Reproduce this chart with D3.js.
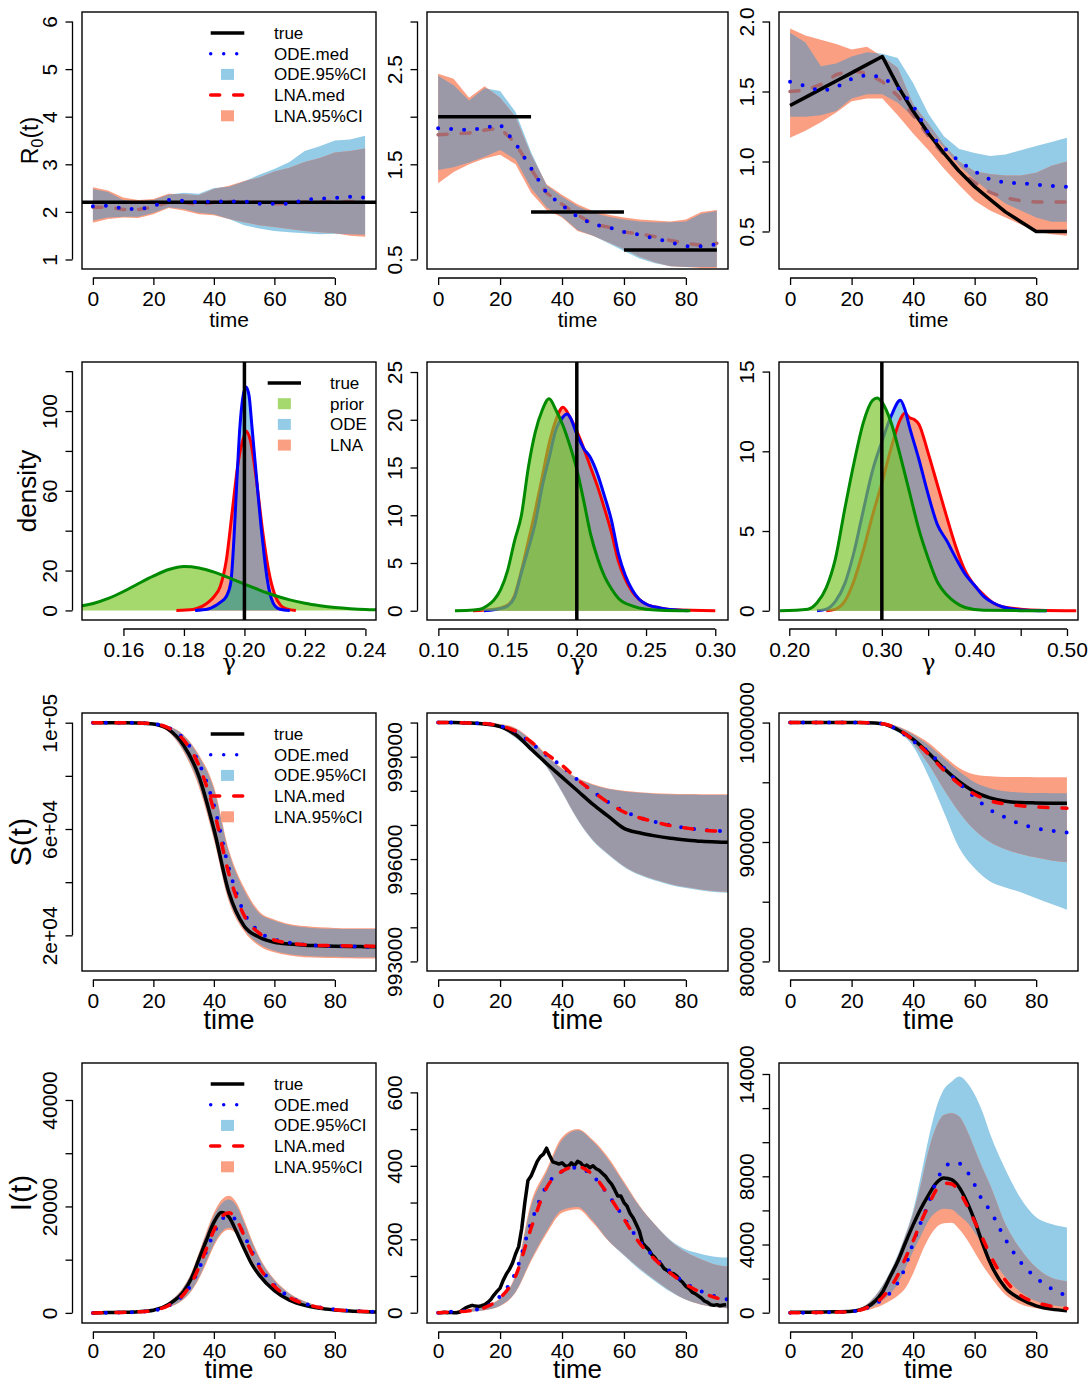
<!DOCTYPE html>
<html>
<head>
<meta charset="utf-8">
<script src="https://cdn.jsdelivr.net/npm/d3@7"></script>
<style>
  body { margin: 0; background: #fff; }
  svg { font-family: "Liberation Sans", Arial, Helvetica, sans-serif; }
</style>
</head>
<body>
<svg id="fig" width="1092" height="1384"></svg>
<script>
// ---- time grids ----
const T5 = [0, 5, 10, 15, 20, 25, 30, 35, 40, 45, 50, 55, 60, 65, 70, 75, 80, 85, 90];
const T5b = [0, 5, 10, 15, 20, 25, 30, 35, 40, 45, 50, 55, 60, 65, 70, 75, 80, 85, 90, 95];
const TI = [0, 5, 10, 15, 20, 25, 30, 32.5, 35, 37.5, 40, 42.5, 45, 47.5, 50, 52.5, 55, 60, 65, 70, 75, 80, 85, 90, 95];
const TI3 = [0, 5, 10, 15, 20, 25, 30, 32.5, 35, 37.5, 40, 42.5, 45, 47.5, 50, 52.5, 55, 57.5, 60, 62.5, 65, 70, 75, 80, 85, 90];

// ---- row 1: R0(t) ----
const r0aTrue = 2.2;
const r0aOdeMed = [2.12, 2.13, 2.07, 2.05, 2.12, 2.25, 2.23, 2.2, 2.22, 2.22, 2.22, 2.17, 2.17, 2.17, 2.25, 2.28, 2.29, 2.32, 2.3];
const r0aLnaMed = [2.1, 2.1, 2.05, 2.05, 2.1, 2.2, 2.2, 2.15, 2.2, 2.22, 2.2, 2.2, 2.17, 2.18, 2.2, 2.22, 2.22, 2.22, 2.22];
const r0aOdeHi = [2.48, 2.42, 2.25, 2.22, 2.25, 2.36, 2.4, 2.38, 2.5, 2.53, 2.64, 2.78, 2.9, 3.05, 3.28, 3.38, 3.5, 3.52, 3.6];
const r0aLnaHi = [2.52, 2.45, 2.3, 2.25, 2.27, 2.38, 2.37, 2.35, 2.48, 2.55, 2.65, 2.72, 2.85, 2.93, 3.05, 3.13, 3.25, 3.28, 3.33];
const r0aOdeLo = [1.82, 1.88, 1.9, 1.9, 1.98, 2.1, 2.06, 1.98, 1.95, 1.85, 1.72, 1.65, 1.6, 1.57, 1.55, 1.53, 1.54, 1.53, 1.52];
const r0aLnaLo = [1.77, 1.85, 1.88, 1.87, 1.95, 2.08, 2.03, 1.95, 1.93, 1.85, 1.78, 1.72, 1.68, 1.64, 1.6, 1.57, 1.55, 1.5, 1.48];

const r0bTrueStart = [0, 30, 60];
const r0bTrueEnd = [30, 60, 90];
const r0bTrueVal = [2.0, 1.0, 0.6];
const r0bOdeMed = [1.88, 1.87, 1.86, 1.88, 1.92, 1.72, 1.46, 1.2, 1.07, 0.95, 0.87, 0.84, 0.79, 0.76, 0.72, 0.68, 0.64, 0.64, 0.66];
const r0bLnaMed = [1.81, 1.82, 1.83, 1.86, 1.88, 1.72, 1.45, 1.2, 1.08, 0.97, 0.87, 0.84, 0.79, 0.77, 0.74, 0.7, 0.67, 0.65, 0.67];
const r0bOdeHi = [2.43, 2.33, 2.17, 2.3, 2.27, 2.05, 1.63, 1.28, 1.16, 1.06, 0.99, 0.95, 0.92, 0.9, 0.89, 0.89, 0.9, 0.98, 1.01];
const r0bLnaHi = [2.45, 2.4, 2.2, 2.32, 2.2, 2.0, 1.6, 1.29, 1.18, 1.08, 1.01, 0.97, 0.94, 0.92, 0.91, 0.9, 0.92, 1.0, 1.02];
const r0bOdeLo = [1.44, 1.47, 1.52, 1.58, 1.65, 1.55, 1.25, 1.05, 0.95, 0.81, 0.75, 0.67, 0.59, 0.51, 0.46, 0.43, 0.42, 0.42, 0.42];
const r0bLnaLo = [1.3, 1.42, 1.5, 1.56, 1.6, 1.5, 1.2, 1.02, 0.94, 0.8, 0.75, 0.68, 0.61, 0.53, 0.47, 0.43, 0.42, 0.41, 0.41];

const r0cTrue = [1.4, 1.458, 1.517, 1.575, 1.633, 1.692, 1.75, 1.54, 1.36, 1.2, 1.06, 0.93, 0.82, 0.73, 0.64, 0.57, 0.5, 0.5, 0.5];
const r0cOdeMed = [1.57, 1.54, 1.5, 1.53, 1.59, 1.62, 1.6, 1.53, 1.4, 1.2, 1.1, 1.0, 0.93, 0.87, 0.85, 0.845, 0.835, 0.825, 0.82];
const r0cLnaMed = [1.5, 1.51, 1.55, 1.62, 1.65, 1.63, 1.57, 1.47, 1.33, 1.18, 1.05, 0.93, 0.85, 0.78, 0.74, 0.72, 0.71, 0.71, 0.71];
const r0cOdeHi = [1.92, 1.85, 1.68, 1.7, 1.75, 1.78, 1.77, 1.74, 1.56, 1.34, 1.18, 1.09, 1.06, 1.04, 1.05, 1.08, 1.11, 1.14, 1.17];
const r0cLnaHi = [1.95, 1.9, 1.87, 1.84, 1.8, 1.82, 1.75, 1.67, 1.41, 1.27, 1.12, 1.0, 0.93, 0.91, 0.9, 0.9, 0.92, 0.97, 1.0];
const r0cOdeLo = [1.32, 1.32, 1.33, 1.36, 1.45, 1.48, 1.48, 1.42, 1.32, 1.22, 1.1, 0.97, 0.87, 0.78, 0.7, 0.65, 0.6, 0.57, 0.57];
const r0cLnaLo = [1.17, 1.22, 1.28, 1.35, 1.43, 1.45, 1.45, 1.33, 1.2, 1.08, 0.95, 0.83, 0.72, 0.65, 0.6, 0.55, 0.5, 0.48, 0.47];

// ---- row 2: gamma densities ----
const gATrue = 0.2;
const gAPriorX = [0.146, 0.15, 0.155, 0.16, 0.165, 0.17, 0.175, 0.18, 0.185, 0.19, 0.195, 0.2, 0.205, 0.21, 0.215, 0.22, 0.225, 0.23, 0.235, 0.24, 0.245];
const gAPriorY = [2.3, 3.5, 6, 9.5, 13.5, 17.3, 20.5, 22, 21.3, 19.2, 16.3, 13.2, 10.2, 7.5, 5.3, 3.6, 2.4, 1.5, 0.9, 0.5, 0.35];
const gAOdeX = [0.1837, 0.188, 0.19, 0.192, 0.194, 0.1955, 0.1965, 0.1975, 0.1985, 0.1995, 0.2005, 0.2015, 0.2025, 0.2035, 0.2045, 0.2055, 0.2065, 0.2075, 0.2085, 0.2095, 0.211, 0.213, 0.215];
const gAOdeY = [0, 0.7, 2, 4, 7, 14, 35, 65, 92, 107, 112, 108, 92, 75, 58, 42, 28, 16, 8, 3.7, 1, 0.2, 0];
const gALnaX = [0.1775, 0.183, 0.186, 0.188, 0.19, 0.192, 0.194, 0.196, 0.198, 0.2, 0.2005, 0.202, 0.204, 0.206, 0.208, 0.21, 0.212, 0.214, 0.217];
const gALnaY = [0, 0.5, 2, 4, 7, 12, 25, 50, 75, 88, 90, 85, 65, 40, 20, 8, 2.5, 0.8, 0];

const gBTrue = 0.2;
const gBPriorX = [0.112, 0.12, 0.13, 0.135, 0.14, 0.145, 0.15, 0.155, 0.16, 0.165, 0.17, 0.175, 0.18, 0.185, 0.19, 0.195, 0.2, 0.205, 0.21, 0.215, 0.22, 0.225, 0.23, 0.24, 0.25, 0.26, 0.282];
const gBPriorY = [0, 0.02, 0.15, 0.5, 1.1, 2.2, 4.2, 7.3, 10, 15, 18.7, 21, 22.2, 21, 19.4, 17.3, 14.8, 11.5, 8, 5.5, 3.6, 2.3, 1.3, 0.5, 0.15, 0.05, 0];
const gBOdeX = [0.133, 0.14, 0.145, 0.15, 0.155, 0.16, 0.165, 0.17, 0.175, 0.18, 0.185, 0.19, 0.193, 0.195, 0.2, 0.205, 0.21, 0.215, 0.22, 0.225, 0.23, 0.235, 0.24, 0.245, 0.25, 0.26, 0.27, 0.28];
const gBOdeY = [0, 0.1, 0.25, 0.5, 1.4, 4, 6.5, 9.2, 13, 16, 19, 20.3, 20.6, 20.3, 18.5, 17, 16, 14.3, 12, 9.5, 6, 3.7, 2.2, 1.2, 0.7, 0.3, 0.1, 0];
const gBLnaX = [0.125, 0.14, 0.15, 0.155, 0.16, 0.165, 0.17, 0.175, 0.18, 0.185, 0.19, 0.195, 0.2, 0.205, 0.21, 0.215, 0.22, 0.225, 0.23, 0.235, 0.24, 0.245, 0.25, 0.26, 0.27, 0.3];
const gBLnaY = [0, 0.15, 0.6, 1.6, 4.2, 7.3, 10.5, 14, 17.5, 20, 21.3, 20.3, 18.8, 17, 15, 13, 10.7, 8.2, 5.2, 3.3, 2, 1.2, 0.7, 0.3, 0.1, 0];

const gCTrue = 0.3;
const gCPriorX = [0.19, 0.22, 0.23, 0.24, 0.25, 0.26, 0.27, 0.28, 0.29, 0.295, 0.3, 0.31, 0.32, 0.33, 0.34, 0.35, 0.36, 0.37, 0.38, 0.39, 0.41, 0.478];
const gCPriorY = [0, 0.1, 0.5, 1.45, 3.3, 6.4, 9.3, 11.8, 13.2, 13.35, 13.1, 11.8, 9.7, 7.4, 5.1, 3.3, 1.8, 1.0, 0.5, 0.2, 0.03, 0];
const gCOdeX = [0.23, 0.24, 0.25, 0.26, 0.27, 0.28, 0.29, 0.3, 0.31, 0.32, 0.325, 0.33, 0.34, 0.35, 0.36, 0.37, 0.38, 0.39, 0.4, 0.41, 0.42, 0.43, 0.45, 0.478];
const gCOdeY = [0, 0.1, 0.6, 1.7, 3.7, 6.3, 8.8, 10.6, 12.2, 13.2, 12.6, 11.5, 9.5, 7.3, 5.4, 4.4, 3.3, 2.3, 1.6, 0.9, 0.5, 0.25, 0.05, 0];
const gCLnaX = [0.24, 0.25, 0.26, 0.27, 0.28, 0.29, 0.3, 0.31, 0.32, 0.325, 0.33, 0.335, 0.34, 0.35, 0.36, 0.37, 0.38, 0.39, 0.4, 0.41, 0.42, 0.43, 0.45, 0.47, 0.51];
const gCLnaY = [0, 0.1, 0.6, 1.9, 3.8, 6, 8, 10.2, 12, 12.4, 12.1, 12, 11.7, 9.9, 7.9, 5.9, 4, 2.5, 1.6, 1.0, 0.5, 0.25, 0.1, 0.03, 0];

// ---- row 3: S(t) ----
const sATrue = [100000, 100000, 99990, 99900, 99500, 97500, 91500, 80000, 60000, 36000, 23500, 19300, 17400, 16700, 16300, 16100, 15900, 15800, 15750, 15700];
const sALnaMed = [100000, 100000, 99990, 99920, 99600, 98000, 93500, 84000, 67000, 43000, 27500, 20800, 18200, 17100, 16500, 16200, 16100, 16000, 15950, 15900];
const sAOdeMed = [100000, 100000, 99990, 99920, 99600, 98100, 94000, 85000, 69000, 45000, 28500, 21300, 18500, 17200, 16500, 16100, 15900, 15800, 15700, 15650];
const sALnaHi = [100000, 100000, 99995, 99950, 99800, 98800, 95500, 88000, 76000, 52000, 38000, 29000, 26000, 24300, 23500, 23000, 22800, 22700, 22700, 22700];
const sAOdeHi = [100000, 100000, 99995, 99950, 99780, 98700, 95200, 87500, 75000, 51000, 37000, 28300, 25500, 23800, 23000, 22600, 22500, 22400, 22400, 22400];
const sALnaLo = [99990, 99980, 99960, 99850, 99000, 96500, 89000, 76000, 56000, 32500, 21500, 16000, 13600, 12400, 11800, 11600, 11500, 11400, 11300, 11300];
const sAOdeLo = [99990, 99980, 99960, 99860, 99100, 96700, 89500, 77000, 57000, 33500, 22300, 16700, 14200, 12900, 12300, 12000, 11900, 11800, 11800, 11800];

const sBTrue = [1000000, 1000000, 999990, 999960, 999880, 999650, 999220, 998800, 998400, 998000, 997600, 997250, 996900, 996770, 996680, 996610, 996560, 996520, 996500, 996490];
const sBLnaMed = [1000000, 1000000, 999990, 999970, 999900, 999750, 999430, 999080, 998750, 998330, 997980, 997650, 997380, 997210, 997090, 996980, 996910, 996850, 996820, 996800];
const sBOdeMed = [1000000, 1000000, 999990, 999970, 999900, 999740, 999400, 999050, 998720, 998320, 997980, 997660, 997400, 997220, 997090, 996990, 996910, 996860, 996830, 996810];
const sBLnaHi = [1000000, 1000000, 1000000, 999995, 999960, 999840, 999510, 999060, 998660, 998380, 998190, 998070, 998000, 997960, 997930, 997915, 997905, 997900, 997900, 997900];
const sBOdeHi = [1000000, 1000000, 1000000, 999995, 999950, 999820, 999480, 999030, 998640, 998360, 998170, 998050, 997980, 997940, 997910, 997895, 997885, 997880, 997880, 997880];
const sBLnaLo = [999980, 999980, 999960, 999930, 999850, 999570, 999230, 998720, 997980, 997180, 996560, 996150, 995800, 995560, 995400, 995270, 995180, 995110, 995060, 995040];
const sBOdeLo = [999980, 999980, 999960, 999930, 999840, 999550, 999200, 998690, 997950, 997150, 996530, 996120, 995770, 995530, 995370, 995240, 995150, 995080, 995030, 995010];

const sCTrue = [1000000, 1000000, 1000000, 1000000, 999990, 999900, 999000, 994000, 986000, 974500, 961500, 950500, 942000, 937000, 934200, 933000, 932700, 932500, 932400];
const sCLnaMed = [1000000, 1000000, 1000000, 1000000, 999990, 999900, 999000, 994500, 985500, 973500, 960000, 948500, 940000, 934500, 931800, 930300, 929400, 928700, 928300];
const sCOdeMed = [1000000, 1000000, 1000000, 1000000, 999990, 999900, 999000, 993800, 984500, 975500, 962000, 949000, 937500, 927000, 920500, 915000, 911500, 909500, 908000];
const sCLnaHi = [1000000, 1000000, 1000000, 1000000, 1000000, 999990, 999900, 997000, 991000, 983000, 972000, 962000, 956500, 955000, 954500, 954400, 954300, 954300, 954300];
const sCOdeHi = [1000000, 1000000, 1000000, 1000000, 1000000, 999990, 999800, 996500, 990000, 981000, 970000, 959000, 950000, 945000, 942500, 941500, 941000, 940900, 940800];
const sCLnaLo = [1000000, 1000000, 1000000, 1000000, 999990, 999800, 998500, 993000, 982500, 965000, 944000, 925000, 910000, 900000, 894000, 890000, 887000, 884500, 883000];
const sCOdeLo = [1000000, 1000000, 1000000, 1000000, 999990, 999700, 998000, 992000, 980000, 955000, 925000, 895000, 878000, 867000, 862000, 858000, 853000, 848000, 843300];

// ---- row 4: I(t) ----
const iATrue = [0, 50, 100, 220, 500, 1600, 4000, 6400, 10000, 13600, 17000, 18850, 18000, 15200, 12100, 9200, 7100, 4200, 2400, 1400, 850, 550, 350, 230, 150];
const iALnaMed = [0, 40, 90, 200, 450, 1400, 3500, 5500, 8500, 12000, 15500, 18000, 18800, 17500, 14500, 11300, 8600, 5000, 2900, 1700, 1000, 620, 400, 260, 170];
const iAOdeMed = [0, 40, 90, 200, 440, 1350, 3400, 5300, 8200, 11600, 15000, 17500, 18300, 17300, 14600, 11600, 8900, 5200, 3000, 1750, 1050, 650, 420, 270, 180];
const iALnaHi = [0, 60, 130, 280, 650, 2000, 4900, 7500, 11200, 15200, 18800, 21200, 22000, 20700, 17500, 13800, 10600, 6300, 3700, 2200, 1300, 800, 500, 330, 220];
const iAOdeHi = [0, 55, 125, 270, 630, 1950, 4800, 7300, 10900, 14800, 18200, 20500, 21300, 20100, 17000, 13400, 10300, 6100, 3600, 2150, 1280, 790, 500, 330, 220];
const iALnaLo = [0, 25, 60, 140, 330, 1000, 2500, 4000, 6300, 9300, 12500, 14800, 15600, 14800, 12500, 9800, 7400, 4200, 2400, 1400, 850, 520, 330, 210, 140];
const iAOdeLo = [0, 27, 65, 150, 350, 1050, 2650, 4200, 6600, 9700, 12900, 15200, 16000, 15200, 12900, 10100, 7600, 4300, 2450, 1420, 860, 530, 340, 215, 145];

// observed epidemic, one value per day 0..93
const iBTrue = [
  0, 0, 1, 0, 1, 0, 0, 2, 8, 14,
  17, 20, 18, 17, 19, 22, 28, 36, 48, 58,
  67, 88, 105, 118, 135, 160, 180, 230, 300, 360,
  372, 392, 412, 425, 432, 448, 428, 411, 408, 405,
  408, 400, 398, 408, 400, 412, 408, 398, 402, 395,
  400, 392, 388, 380, 372, 360, 350, 335, 318, 318,
  300, 290, 270, 258, 240, 222, 190, 180, 172, 158,
  150, 138, 132, 120, 115, 108, 106, 100, 90, 82,
  72, 66, 56, 52, 46, 40, 32, 28, 22, 20,
  22, 19, 21, 22];
const iBLnaMed = [0, 2, 5, 14, 40, 100, 230, 340, 385, 398, 375, 320, 255, 190, 145, 108, 77, 55, 40, 30];
const iBOdeMed = [0, 3, 6, 15, 45, 110, 245, 345, 385, 395, 372, 320, 258, 195, 150, 112, 80, 58, 43, 33];
const iBLnaHi = [2, 5, 10, 20, 40, 105, 300, 390, 478, 500, 470, 422, 357, 292, 240, 195, 165, 145, 130, 125];
const iBOdeHi = [2, 4, 9, 18, 38, 100, 290, 382, 470, 497, 466, 416, 352, 290, 240, 198, 172, 160, 152, 150];
const iBLnaLo = [0, 1, 3, 7, 18, 55, 140, 215, 272, 282, 245, 195, 158, 122, 90, 60, 36, 22, 15, 11];
const iBOdeLo = [0, 1, 3, 7, 19, 57, 145, 222, 280, 288, 250, 196, 156, 118, 86, 57, 35, 22, 15, 11];

const iCTrue = [20, 25, 35, 50, 80, 330, 1200, 2100, 3000, 4100, 5150, 6100, 6900, 7600, 7900, 7800, 7350, 6500, 5400, 4100, 2950, 1450, 800, 400, 210, 120];
const iCLnaMed = [0, 5, 15, 30, 70, 300, 900, 1450, 2200, 3200, 4200, 5300, 6300, 7200, 7600, 7550, 7100, 6300, 5350, 4400, 3400, 1900, 1000, 600, 380, 250];
const iCOdeMed = [0, 5, 15, 30, 70, 280, 780, 1150, 1750, 2700, 4100, 5300, 6400, 7700, 8450, 8800, 8750, 8300, 7500, 6600, 6000, 4300, 2950, 2050, 1400, 1000];
const iCOdeHi = [30, 40, 50, 80, 150, 500, 1600, 2400, 3400, 4600, 6000, 8000, 10200, 12000, 13100, 13550, 13850, 13500, 12800, 11800, 10500, 8400, 6700, 5600, 5200, 5000];
const iCLnaHi = [30, 40, 50, 80, 150, 500, 1550, 2350, 3300, 4500, 5800, 7500, 9500, 10900, 11600, 11700, 11500, 10700, 9600, 8500, 7500, 5200, 3700, 2650, 2050, 1850];
const iCOdeLo = [0, 5, 10, 20, 50, 200, 700, 1100, 1700, 2600, 3600, 4500, 5400, 5900, 6100, 6050, 5700, 5300, 4700, 4000, 3300, 2100, 1200, 680, 440, 340];
const iCLnaLo = [0, 3, 8, 15, 40, 150, 450, 700, 1000, 1450, 2300, 3400, 4350, 5000, 5250, 5280, 4900, 4300, 3550, 2800, 2150, 1050, 500, 260, 150, 100];

// ---- layout ----
const colBox = [[82, 376], [427, 728], [779, 1078]];
const rowBox = [[12, 269], [362, 620], [713, 971], [1063, 1323]];
const timeDom = [-3.6, 93.6];
const COL = {
  ode: '#94cbe6', lna: '#fb9f83', both: '#9b99a7',
  odeLine: '#0000ff', lnaLine: '#ff0000', lnaMuted: '#a8686c',
  prior: '#a5d96e', priorFill: 'rgb(126,200,48)', priorLine: '#008a00', teal: '#5fa389',
};

const svg = d3.select('#fig');
const defs = svg.append('defs');
const sci = (d) => {
  const e = Math.floor(Math.log10(d));
  return `${Math.round(d / 10 ** e)}e+${String(e).padStart(2, '0')}`;
};

function frame(row, col, xDom, yDom) {
  const [x0, x1] = colBox[col];
  const [y0, y1] = rowBox[row];
  const x = d3.scaleLinear().domain(xDom).range([x0, x1]);
  const y = d3.scaleLinear().domain(yDom).range([y1, y0]);
  const id = `c${row}${col}`;
  defs.append('clipPath').attr('id', id).append('rect')
    .attr('x', x0).attr('y', y0).attr('width', x1 - x0).attr('height', y1 - y0);
  const g = svg.append('g').attr('clip-path', `url(#${id})`);
  return { x, y, g, x0, x1, y0, y1, id };
}

function axes(f, ax) {
  // x axis: line spans first..last tick only, like base R
  const xa = d3.axisBottom(f.x).tickValues(ax.xTicks).tickSize(7)
    .tickFormat(d => (ax.xLabels.includes(d) ? ax.xFmt(d) : ''));
  const gx = svg.append('g').attr('transform', `translate(0,${f.y1 + 9})`).call(xa);
  gx.select('.domain').remove();
  gx.append('line')
    .attr('x1', f.x(ax.xTicks[0])).attr('x2', f.x(ax.xTicks[ax.xTicks.length - 1]))
    .attr('stroke', '#000').attr('stroke-width', 1.3);
  gx.selectAll('.tick line').attr('stroke-width', 1.3);
  gx.selectAll('.tick text').attr('font-size', 21).attr('font-family', null)
    .attr('fill', '#000').attr('dy', null).attr('y', ax.tickY || 28);

  // y axis
  const ya = d3.axisLeft(f.y).tickValues(ax.yTicks).tickSize(7)
    .tickFormat(d => (ax.yLabels.includes(d) ? ax.yFmt(d) : ''));
  const gy = svg.append('g').attr('transform', `translate(${f.x0 - 9.5},0)`).call(ya);
  gy.select('.domain').remove();
  gy.append('line')
    .attr('y1', f.y(ax.yTicks[0])).attr('y2', f.y(ax.yTicks[ax.yTicks.length - 1]))
    .attr('stroke', '#000').attr('stroke-width', 1.3);
  gy.selectAll('.tick line').attr('stroke-width', 1.3);
  gy.selectAll('.tick text').attr('font-size', 21).attr('font-family', null)
    .attr('fill', '#000').attr('x', null).attr('dy', null)
    .attr('text-anchor', 'middle')
    .attr('transform', 'translate(-16,0) rotate(-90)');

  // box
  svg.append('rect').attr('x', f.x0).attr('y', f.y0)
    .attr('width', f.x1 - f.x0).attr('height', f.y1 - f.y0)
    .attr('fill', 'none').attr('stroke', '#000').attr('stroke-width', 1.4);

  // x title
  const xt = svg.append('text').attr('x', (f.x0 + f.x1) / 2).attr('y', ax.xTitleY)
    .attr('text-anchor', 'middle').attr('font-size', ax.xTitleSize);
  if (ax.greek) xt.attr('font-family', '"DejaVu Serif", "Liberation Serif", serif');
  xt.text(ax.xTitle);
}

function legend(f, items, lx) {
  const g = svg.append('g');
  items.forEach((it, i) => {
    const cy = f.y0 + 21 + i * 20.7;
    if (it.type === 'line') {
      g.append('line').attr('x1', lx[0]).attr('x2', lx[1]).attr('y1', cy).attr('y2', cy)
        .attr('stroke', it.color).attr('stroke-width', 3.5)
        .attr('stroke-dasharray', it.dash || null).attr('stroke-linecap', it.cap || 'butt');
    } else {
      const cx = (lx[0] + lx[1]) / 2;
      g.append('rect').attr('x', cx - 6.5).attr('y', cy - 5.5).attr('width', 13).attr('height', 11)
        .attr('fill', it.color);
    }
    g.append('text').attr('x', lx[2]).attr('y', cy).attr('dy', '0.35em')
      .attr('font-size', 17).text(it.label);
  });
}

const bandLegend = [
  { type: 'line', color: '#000', label: 'true' },
  { type: 'line', color: COL.odeLine, dash: '0 13', cap: 'round', label: 'ODE.med' },
  { type: 'box', color: COL.ode, label: 'ODE.95%CI' },
  { type: 'line', color: COL.lnaLine, dash: '9 14', cap: 'round', label: 'LNA.med' },
  { type: 'box', color: COL.lna, label: 'LNA.95%CI' },
];

const timeAxis = { xTicks: [0, 20, 40, 60, 80], xLabels: [0, 20, 40, 60, 80], xFmt: d3.format('d'), xTitle: 'time' };

const bandPanels = [
  { row: 0, col: 0, t: T5, yDom: [0.8, 6.2], yTicks: [1, 2, 3, 4, 5, 6], yLabels: [1, 2, 3, 4, 5, 6], yFmt: d3.format('d'),
    oLo: r0aOdeLo, oHi: r0aOdeHi, lLo: r0aLnaLo, lHi: r0aLnaHi, oMed: r0aOdeMed, lMed: r0aLnaMed,
    hline: r0aTrue, curve: d3.curveLinear, muted: true, legend: true },
  { row: 0, col: 1, t: T5, yDom: [0.4, 3.1], yTicks: [0.5, 1, 1.5, 2, 2.5, 3], yLabels: [0.5, 1.5, 2.5], yFmt: d3.format('.1f'),
    oLo: r0bOdeLo, oHi: r0bOdeHi, lLo: r0bLnaLo, lHi: r0bLnaHi, oMed: r0bOdeMed, lMed: r0bLnaMed,
    steps: [r0bTrueStart, r0bTrueEnd, r0bTrueVal], curve: d3.curveLinear, muted: true },
  { row: 0, col: 2, t: T5, yDom: [0.232, 2.068], yTicks: [0.5, 1, 1.5, 2], yLabels: [0.5, 1, 1.5, 2], yFmt: d3.format('.1f'),
    oLo: r0cOdeLo, oHi: r0cOdeHi, lLo: r0cLnaLo, lHi: r0cLnaHi, oMed: r0cOdeMed, lMed: r0cLnaMed,
    tr: r0cTrue, trueCurve: d3.curveLinear, curve: d3.curveLinear, muted: true },
  { row: 2, col: 0, t: T5b, yDom: [6580, 103650], yTicks: [20000, 40000, 60000, 80000, 100000], yLabels: [20000, 60000, 100000], yFmt: sci,
    oLo: sAOdeLo, oHi: sAOdeHi, lLo: sALnaLo, lHi: sALnaHi, oMed: sAOdeMed, lMed: sALnaMed,
    tr: sATrue, curve: d3.curveMonotoneX, legend: true },
  { row: 2, col: 1, t: T5b, yDom: [992720, 1000280], yTicks: d3.range(993000, 1000001, 1000), yLabels: [993000, 996000, 999000], yFmt: d3.format('d'),
    oLo: sBOdeLo, oHi: sBOdeHi, lLo: sBLnaLo, lHi: sBLnaHi, oMed: sBOdeMed, lMed: sBLnaMed,
    tr: sBTrue, curve: d3.curveMonotoneX },
  { row: 2, col: 2, t: T5, yDom: [792000, 1008000], yTicks: [800000, 850000, 900000, 950000, 1000000], yLabels: [800000, 900000, 1000000], yFmt: d3.format('d'),
    oLo: sCOdeLo, oHi: sCOdeHi, lLo: sCLnaLo, lHi: sCLnaHi, oMed: sCOdeMed, lMed: sCLnaMed,
    tr: sCTrue, curve: d3.curveMonotoneX },
  { row: 3, col: 0, t: TI, yDom: [-1900, 46950], yTicks: [0, 10000, 20000, 30000, 40000], yLabels: [0, 20000, 40000], yFmt: d3.format('d'),
    oLo: iAOdeLo, oHi: iAOdeHi, lLo: iALnaLo, lHi: iALnaHi, oMed: iAOdeMed, lMed: iALnaMed,
    tr: iATrue, curve: d3.curveMonotoneX, legend: true },
  { row: 3, col: 1, t: T5b, yDom: [-28, 680], yTicks: [0, 100, 200, 300, 400, 500, 600], yLabels: [0, 200, 400, 600], yFmt: d3.format('d'),
    oLo: iBOdeLo, oHi: iBOdeHi, lLo: iBLnaLo, lHi: iBLnaHi, oMed: iBOdeMed, lMed: iBLnaMed,
    tr: iBTrue, trueT: d3.range(0, iBTrue.length), trueCurve: d3.curveLinear, curve: d3.curveMonotoneX },
  { row: 3, col: 2, t: TI3, yDom: [-604, 14645], yTicks: d3.range(0, 14001, 2000), yLabels: [0, 4000, 8000, 14000], yFmt: d3.format('d'),
    oLo: iCOdeLo, oHi: iCOdeHi, lLo: iCLnaLo, lHi: iCLnaHi, oMed: iCOdeMed, lMed: iCLnaMed,
    tr: iCTrue, curve: d3.curveMonotoneX },
];

const xTitleY = [327, 670, 1029, 1378];
const xTitleSize = [21, 23, 27, 26];
const tickY = [28, 28, 28, 26];

bandPanels.forEach((p) => {
  const f = frame(p.row, p.col, timeDom, p.yDom);
  const { x, y, g } = f;
  const rows = p.t.map((t, i) => ({
    t, oLo: p.oLo[i], oHi: p.oHi[i], lLo: p.lLo[i], lHi: p.lHi[i], oM: p.oMed[i], lM: p.lMed[i],
  }));
  const odeArea = d3.area().curve(p.curve).x(d => x(d.t)).y0(d => y(d.oLo)).y1(d => y(d.oHi));
  const lnaArea = d3.area().curve(p.curve).x(d => x(d.t)).y0(d => y(d.lLo)).y1(d => y(d.lHi));
  defs.append('clipPath').attr('id', `${f.id}ode`).append('path').attr('d', odeArea(rows));

  g.append('path').attr('d', odeArea(rows)).attr('fill', COL.ode);
  g.append('path').attr('d', lnaArea(rows)).attr('fill', COL.lna);
  // overlap of the two credible bands
  g.append('path').attr('d', lnaArea(rows)).attr('fill', COL.both).attr('clip-path', `url(#${f.id}ode)`);

  const lnaLine = d3.line().curve(p.curve).x(d => x(d.t)).y(d => y(d.lM));
  const odeLine = d3.line().curve(p.curve).x(d => x(d.t)).y(d => y(d.oM));
  const drawLna = () => g.append('path').attr('d', lnaLine(rows)).attr('fill', 'none')
    .attr('stroke', p.muted ? COL.lnaMuted : COL.lnaLine).attr('stroke-width', 3.5)
    .attr('stroke-dasharray', '9 14').attr('stroke-linecap', 'round');
  if (p.muted) drawLna();

  // true trajectory
  const tStyle = sel => sel.attr('stroke', '#000').attr('stroke-width', 3.5).attr('fill', 'none');
  if (p.hline !== undefined) {
    tStyle(g.append('line').attr('x1', f.x0).attr('x2', f.x1).attr('y1', y(p.hline)).attr('y2', y(p.hline)));
  } else if (p.steps) {
    p.steps[0].forEach((s, i) => {
      tStyle(g.append('line').attr('x1', x(s)).attr('x2', x(p.steps[1][i]))
        .attr('y1', y(p.steps[2][i])).attr('y2', y(p.steps[2][i])));
    });
  } else {
    const tt = p.trueT || p.t;
    const tl = d3.line().curve(p.trueCurve || p.curve).x((d, i) => x(tt[i])).y(d => y(d));
    tStyle(g.append('path').attr('d', tl(p.tr))).attr('stroke-linejoin', 'round');
  }

  g.append('path').attr('d', odeLine(rows)).attr('fill', 'none')
    .attr('stroke', COL.odeLine).attr('stroke-width', 4)
    .attr('stroke-dasharray', '0 13').attr('stroke-linecap', 'round');
  if (!p.muted) drawLna();

  axes(f, {
    ...timeAxis, yTicks: p.yTicks, yLabels: p.yLabels, yFmt: p.yFmt,
    xTitleY: xTitleY[p.row], xTitleSize: xTitleSize[p.row], tickY: tickY[p.row],
  });
  if (p.legend) legend(f, bandLegend, [210.7, 244.3, 274]);
});

// density panels
const densPanels = [
  { col: 0, xDom: [0.1463, 0.2435], yDom: [-4.8, 124.6], xTicks: [0.16, 0.18, 0.2, 0.22, 0.24], xLabels: [0.16, 0.18, 0.2, 0.22, 0.24],
    yTicks: [0, 20, 40, 60, 80, 100, 120], yLabels: [0, 20, 60, 100],
    prior: [gAPriorX, gAPriorY], ode: [gAOdeX, gAOdeY], lna: [gALnaX, gALnaY], tv: gATrue, priorTop: false, legend: true },
  { col: 1, xDom: [0.0918, 0.3092], yDom: [-0.97, 26.05], xTicks: [0.1, 0.15, 0.2, 0.25, 0.3], xLabels: [0.1, 0.15, 0.2, 0.25, 0.3],
    yTicks: [0, 5, 10, 15, 20, 25], yLabels: [0, 5, 10, 15, 20, 25],
    prior: [gBPriorX, gBPriorY], ode: [gBOdeX, gBOdeY], lna: [gBLnaX, gBLnaY], tv: gBTrue, priorTop: true },
  { col: 2, xDom: [0.1889, 0.5119], yDom: [-0.58, 15.6], xTicks: [0.2, 0.25, 0.3, 0.35, 0.4, 0.45, 0.5], xLabels: [0.2, 0.3, 0.4, 0.5],
    yTicks: [0, 5, 10, 15], yLabels: [0, 5, 10, 15],
    prior: [gCPriorX, gCPriorY], ode: [gCOdeX, gCOdeY], lna: [gCLnaX, gCLnaY], tv: gCTrue, priorTop: true },
];

densPanels.forEach((p) => {
  const f = frame(1, p.col, p.xDom, p.yDom);
  const { x, y, g } = f;
  const pts = ([xs, ys]) => xs.map((v, i) => [v, ys[i]]);
  const area = d3.area().curve(d3.curveMonotoneX).x(d => x(d[0])).y0(y(0)).y1(d => y(d[1]));
  const line = d3.line().curve(d3.curveMonotoneX).x(d => x(d[0])).y(d => y(d[1]));
  const prior = pts(p.prior);
  const ode = pts(p.ode);
  const lna = pts(p.lna);
  defs.append('clipPath').attr('id', `${f.id}ode`).append('path').attr('d', area(ode));
  defs.append('clipPath').attr('id', `${f.id}pri`).append('path').attr('d', area(prior));

  if (!p.priorTop) g.append('path').attr('d', area(prior)).attr('fill', COL.prior);
  g.append('path').attr('d', area(ode)).attr('fill', COL.ode);
  g.append('path').attr('d', area(lna)).attr('fill', COL.lna);
  const both = g.append('g').attr('clip-path', `url(#${f.id}ode)`);
  both.append('path').attr('d', area(lna)).attr('fill', COL.both);
  if (!p.priorTop) {
    both.append('path').attr('d', area(lna)).attr('fill', COL.teal).attr('clip-path', `url(#${f.id}pri)`);
  }
  g.append('path').attr('d', line(lna)).attr('fill', 'none').attr('stroke', COL.lnaLine).attr('stroke-width', 3);
  g.append('path').attr('d', line(ode)).attr('fill', 'none').attr('stroke', COL.odeLine).attr('stroke-width', 3);
  if (p.priorTop) g.append('path').attr('d', area(prior)).attr('fill', COL.priorFill).attr('fill-opacity', 0.7);
  g.append('path').attr('d', line(prior)).attr('fill', 'none').attr('stroke', COL.priorLine).attr('stroke-width', 3);
  g.append('line').attr('x1', x(p.tv)).attr('x2', x(p.tv)).attr('y1', f.y0).attr('y2', f.y1)
    .attr('stroke', '#000').attr('stroke-width', 3.5);

  axes(f, {
    xTicks: p.xTicks, xLabels: p.xLabels, xFmt: d3.format('.2f'), xTitle: 'γ', greek: true,
    yTicks: p.yTicks, yLabels: p.yLabels, yFmt: d3.format('d'),
    xTitleY: xTitleY[1], xTitleSize: xTitleSize[1], tickY: tickY[1],
  });
  if (p.legend) {
    legend(f, [
      { type: 'line', color: '#000', label: 'true' },
      { type: 'box', color: COL.prior, label: 'prior' },
      { type: 'box', color: COL.ode, label: 'ODE' },
      { type: 'box', color: COL.lna, label: 'LNA' },
    ], [267.7, 301, 330]);
  }
});

// y-axis titles (first column)
const yTitle = (row, bx, size) => svg.append('text')
  .attr('transform', `translate(${bx},${(rowBox[row][0] + rowBox[row][1]) / 2}) rotate(-90)`)
  .attr('text-anchor', 'middle').attr('font-size', size);
const r0 = yTitle(0, 38, 23);
r0.append('tspan').text('R');
r0.append('tspan').attr('font-size', 16).attr('dy', 5).text('0');
r0.append('tspan').attr('dy', -5).text('(t)');
yTitle(1, 36, 26).text('density');
yTitle(2, 31, 30).text('S(t)');
yTitle(3, 31, 30).text('I(t)');
</script>
</body>
</html>
